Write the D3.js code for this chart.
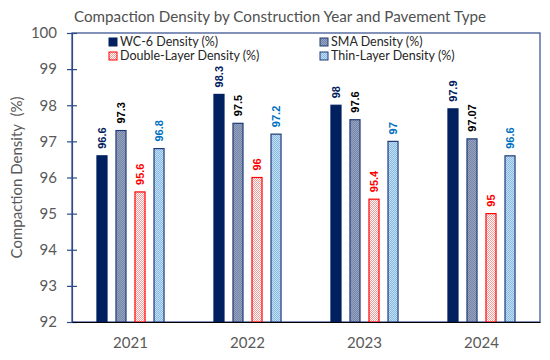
<!DOCTYPE html>
<html>
<head>
<meta charset="utf-8">
<script src="https://cdn.jsdelivr.net/npm/d3@7"></script>
<style>
  body { margin: 0; background: #fff; }
  svg { display: block; }
</style>
</head>
<body>
<div id="chart"></div>
<script>
const years = ['2021', '2022', '2023', '2024'];
const seriesNames = ['WC-6 Density (%)', 'SMA Density (%)', 'Double-Layer Density (%)', 'Thin-Layer Density (%)'];
const wc6 = [96.6, 98.3, 98, 97.9];
const sma = [97.3, 97.5, 97.6, 97.07];
const doubleLayer = [95.6, 96, 95.4, 95];
const thinLayer = [96.8, 97.2, 97, 96.6];
const yTicks = [92, 93, 94, 95, 96, 97, 98, 99, 100];

const seriesValues = [wc6, sma, doubleLayer, thinLayer];

const width = 550, height = 360,
      margin = {top: 33, right: 10, bottom: 38, left: 72};

// fill / stroke / label colour for each series
const styles = [
  {fill: '#002060', stroke: '#002060', label: '#002060'},
  {fill: 'url(#pat-sma)', stroke: '#1f3a78', label: '#000000'},
  {fill: 'url(#pat-double)', stroke: '#ff0000', label: '#ff0000'},
  {fill: 'url(#pat-thin)', stroke: '#1f3a78', label: '#0070c0'}
];

const svg = d3.select('#chart').append('svg')
  .attr('width', width)
  .attr('height', height);

const defs = svg.append('defs');
const pattern = (id, bg, fg, cells) => {
  const p = defs.append('pattern')
    .attr('id', id).attr('patternUnits', 'userSpaceOnUse')
    .attr('width', 2).attr('height', 2);
  p.append('rect').attr('width', 2).attr('height', 2).attr('fill', bg);
  cells.forEach(c => p.append('rect').attr('x', c[0]).attr('y', c[1])
    .attr('width', 1).attr('height', 1).attr('fill', fg));
};
pattern('pat-sma', '#97a4bf', '#7585a8', [[0, 0], [1, 1]]);
pattern('pat-double', '#ffffff', '#f29a9a', [[0, 0], [1, 1]]);
pattern('pat-thin', '#c4dff3', '#86bae3', [[0, 0], [1, 1]]);

const innerW = width - margin.left - margin.right,
      innerH = height - margin.top - margin.bottom;

const g = svg.append('g')
  .attr('transform', 'translate(' + margin.left + ',' + margin.top + ')');

const x0 = d3.scaleBand().domain(years).range([0, innerW]).padding(0);
const bw = x0.bandwidth();
const x1 = d3.scaleBand().domain(d3.range(seriesNames.length))
  .range([bw * 0.175, bw * 0.825]).paddingInner(0.42).paddingOuter(0.21);
const y = d3.scaleLinear().domain([92, 100]).range([innerH, 0]);

// plot border (top / right)
g.append('rect')
  .attr('width', innerW).attr('height', innerH)
  .attr('fill', 'none').attr('stroke', '#2f4a8a').attr('stroke-width', 1.2);

// bars
const groups = g.selectAll('g.year')
  .data(years)
  .enter().append('g')
    .attr('class', 'year')
    .attr('transform', d => 'translate(' + x0(d) + ',0)');

groups.selectAll('rect')
  .data((d, i) => seriesValues.map((vals, s) => ({s: s, v: vals[i]})))
  .enter().append('rect')
    .attr('x', d => x1(d.s) + 0.5)
    .attr('y', d => y(d.v))
    .attr('width', x1.bandwidth() - 1)
    .attr('height', d => innerH - y(d.v))
    .attr('fill', d => styles[d.s].fill)
    .attr('stroke', d => styles[d.s].stroke)
    .attr('stroke-width', 1.2);

groups.selectAll('text')
  .data((d, i) => seriesValues.map((vals, s) => ({s: s, v: vals[i]})))
  .enter().append('text')
    .attr('transform', d => 'translate(' + (x1(d.s) + x1.bandwidth() / 2 + 4) + ',' + (y(d.v) - 7) + ') rotate(-90)')
    .attr('font-family', 'Liberation Sans, Arial, sans-serif')
    .attr('font-size', 11)
    .attr('font-weight', 'bold')
    .attr('fill', d => styles[d.s].label)
    .text(d => d.v);

// y axis
const yAxis = g.append('g')
  .call(d3.axisLeft(y).tickValues(yTicks).tickSize(5).tickPadding(10).tickSizeOuter(0));
yAxis.select('.domain').attr('stroke', '#2f4a8a').attr('stroke-width', 1.2);
yAxis.selectAll('.tick line').attr('stroke', '#2f4a8a').attr('x1', -5).attr('x2', 5).attr('stroke-width', 1.2);
yAxis.selectAll('.tick text')
  .attr('font-family', 'Lato, sans-serif').attr('font-size', 15).attr('fill', '#595959');

// x axis
const xAxis = g.append('g')
  .attr('transform', 'translate(0,' + innerH + ')')
  .call(d3.axisBottom(x0).tickSize(0).tickPadding(15));
xAxis.select('.domain').attr('stroke', '#000').attr('stroke-width', 1.2);
xAxis.selectAll('.tick text')
  .attr('font-family', 'Lato, sans-serif').attr('font-size', 15).attr('fill', '#595959');

// axis title
svg.append('text')
  .attr('transform', 'translate(22,' + (margin.top + innerH / 2) + ') rotate(-90)')
  .attr('text-anchor', 'middle')
  .attr('font-family', 'Lato, sans-serif').attr('font-size', 15).attr('fill', '#595959')
  .attr('xml:space', 'preserve')
  .text('Compaction Density  (%)');

// title
svg.append('text')
  .attr('x', 280).attr('y', 22)
  .attr('text-anchor', 'middle')
  .attr('font-family', 'Lato, sans-serif').attr('font-size', 15.2).attr('fill', '#505050')
  .text('Compaction Density by Construction Year and Pavement Type');

// legend
const legendPos = [[109, 42], [320, 42], [109, 56], [320, 56]];
const legend = svg.selectAll('g.legend')
  .data(seriesNames)
  .enter().append('g')
    .attr('class', 'legend')
    .attr('transform', (d, i) => 'translate(' + legendPos[i][0] + ',' + legendPos[i][1] + ')');
legend.append('rect')
  .attr('x', 0).attr('y', -4).attr('width', 8).attr('height', 8)
  .attr('fill', (d, i) => styles[i].fill)
  .attr('stroke', (d, i) => styles[i].stroke).attr('stroke-width', 1);
legend.append('text')
  .attr('x', 11).attr('dy', '0.35em')
  .attr('font-family', 'Lato, sans-serif').attr('font-size', 12.5).attr('fill', '#262626')
  .text(d => d);
</script>
</body>
</html>
